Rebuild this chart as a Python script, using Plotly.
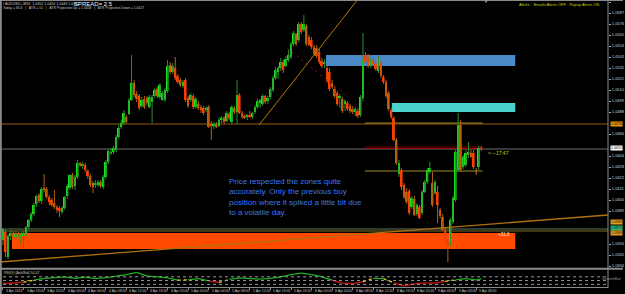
import plotly.graph_objects as go

# ---------------- data (AUDUSD M30) ----------------
opens = [1.0360,1.0368,1.0343,1.0364,1.0366,1.0363,1.0366,1.0362,1.0364,1.0367,
1.0373,1.0380,1.0386,1.0396,1.0405,1.0399,1.0412,1.0411,1.0403,1.0400,
1.0397,1.0393,1.0392,1.0388,1.0392,1.0404,1.0412,1.0425,1.0414,1.0423,
1.0437,1.0434,1.0435,1.0429,1.0424,1.0417,1.0415,1.0415,1.0418,1.0413,
1.0423,1.0438,1.0447,1.0448,1.0450,1.0463,1.0473,1.0477,1.0483,1.0486,
1.0500,1.0517,1.0506,1.0504,1.0494,1.0501,1.0502,1.0493,1.0498,1.0504,
1.0511,1.0503,1.0500,1.0500,1.0509,1.0535,1.0528,1.0532,1.0524,1.0520,
1.0514,1.0520,1.0502,1.0500,1.0504,1.0493,1.0496,1.0493,1.0492,1.0490,
1.0493,1.0476,1.0474,1.0476,1.0474,1.0480,1.0482,1.0479,1.0486,1.0478,
1.0492,1.0488,1.0505,1.0487,1.0484,1.0483,1.0485,1.0483,1.0488,1.0493,
1.0497,1.0496,1.0504,1.0499,1.0503,1.0510,1.0522,1.0528,1.0532,1.0538,
1.0534,1.0540,1.0543,1.0556,1.0566,1.0560,1.0576,1.0570,1.0574,1.0563,
1.0560,1.0553,1.0552,1.0548,1.0539,1.0536,1.0532,1.0528,1.0517,1.0511,
1.0507,1.0502,1.0501,1.0496,1.0497,1.0494,1.0491,1.0488,1.0489,1.0485,
1.0502,1.0545,1.0543,1.0535,1.0539,1.0536,1.0529,1.0537,1.0523,1.0518,
1.0507,1.0490,1.0482,1.0460,1.0426,1.0430,1.0415,1.0408,1.0409,1.0393,
1.0401,1.0386,1.0393,1.0387,1.0408,1.0418,1.0428,1.0417,1.0407,1.0408,
1.0390,1.0383,1.0370,1.0360,1.0357,1.0378,1.0400,1.0430,1.0475,1.0433,
1.0435,1.0445,1.0447,1.0447,1.0430,1.0433,1.0452]

highs = [1.0372,1.0370,1.0366,1.0370,1.0369,1.0369,1.0368,1.0368,1.0369,1.0374,
1.0381,1.0388,1.0397,1.0405,1.0407,1.0413,1.0426,1.0413,1.0405,1.0402,
1.0410,1.0395,1.0394,1.0394,1.0404,1.0416,1.0426,1.0427,1.0425,1.0440,
1.0438,1.0438,1.0437,1.0431,1.0426,1.0419,1.0420,1.0420,1.0420,1.0425,
1.0440,1.0451,1.0452,1.0454,1.0465,1.0475,1.0480,1.0490,1.0485,1.0502,
1.0545,1.0520,1.0509,1.0506,1.0503,1.0504,1.0504,1.0505,1.0505,1.0512,
1.0513,1.0517,1.0509,1.0512,1.0540,1.0538,1.0537,1.0543,1.0526,1.0522,
1.0520,1.0522,1.0504,1.0507,1.0506,1.0503,1.0499,1.0495,1.0494,1.0494,
1.0495,1.0479,1.0478,1.0478,1.0483,1.0484,1.0484,1.0489,1.0488,1.0495,
1.0494,1.0520,1.0507,1.0489,1.0486,1.0486,1.0489,1.0488,1.0495,1.0501,
1.0501,1.0506,1.0505,1.0504,1.0513,1.0524,1.0533,1.0534,1.0542,1.0540,
1.0544,1.0550,1.0558,1.0569,1.0567,1.0578,1.0578,1.0585,1.0576,1.0565,
1.0563,1.0555,1.0555,1.0551,1.0542,1.0541,1.0534,1.0532,1.0520,1.0513,
1.0509,1.0506,1.0503,1.0501,1.0499,1.0496,1.0494,1.0493,1.0492,1.0505,
1.0567,1.0548,1.0546,1.0542,1.0542,1.0540,1.0544,1.0540,1.0525,1.0520,
1.0509,1.0492,1.0484,1.0462,1.0440,1.0432,1.0417,1.0412,1.0411,1.0404,
1.0404,1.0397,1.0395,1.0410,1.0420,1.0432,1.0438,1.0428,1.0420,1.0414,
1.0392,1.0386,1.0372,1.0362,1.0382,1.0404,1.0450,1.0487,1.0480,1.0445,
1.0450,1.0458,1.0450,1.0450,1.0432,1.0454,1.0454]

lows = [1.0355,1.0343,1.0341,1.0360,1.0360,1.0361,1.0360,1.0355,1.0352,1.0364,
1.0371,1.0378,1.0384,1.0393,1.0397,1.0396,1.0408,1.0401,1.0395,1.0393,
1.0391,1.0387,1.0383,1.0386,1.0390,1.0401,1.0410,1.0411,1.0410,1.0421,
1.0433,1.0431,1.0428,1.0421,1.0413,1.0407,1.0412,1.0413,1.0412,1.0411,
1.0421,1.0436,1.0445,1.0446,1.0448,1.0461,1.0471,1.0475,1.0476,1.0485,
1.0499,1.0503,1.0498,1.0490,1.0492,1.0491,1.0495,1.0492,1.0477,1.0502,
1.0502,1.0501,1.0499,1.0498,1.0507,1.0526,1.0526,1.0520,1.0516,1.0513,
1.0512,1.0498,1.0492,1.0498,1.0491,1.0491,1.0490,1.0487,1.0485,1.0488,
1.0472,1.0460,1.0471,1.0472,1.0473,1.0477,1.0476,1.0478,1.0480,1.0476,
1.0486,1.0476,1.0486,1.0481,1.0481,1.0480,1.0482,1.0481,1.0486,1.0491,
1.0492,1.0494,1.0496,1.0496,1.0501,1.0508,1.0520,1.0521,1.0529,1.0527,
1.0533,1.0538,1.0541,1.0554,1.0554,1.0558,1.0566,1.0568,1.0554,1.0554,
1.0551,1.0544,1.0542,1.0536,1.0532,1.0532,1.0517,1.0509,1.0511,1.0502,
1.0494,1.0492,1.0487,1.0489,1.0489,1.0487,1.0486,1.0484,1.0482,1.0483,
1.0499,1.0536,1.0532,1.0532,1.0534,1.0529,1.0527,1.0522,1.0516,1.0502,
1.0489,1.0481,1.0459,1.0435,1.0423,1.0410,1.0401,1.0396,1.0385,1.0391,
1.0384,1.0384,1.0381,1.0385,1.0407,1.0416,1.0426,1.0393,1.0405,1.0377,
1.0382,1.0369,1.0353,1.0338,1.0354,1.0376,1.0398,1.0428,1.0428,1.0431,
1.0433,1.0442,1.0442,1.0431,1.0425,1.0430,1.0449]

closes = [1.0371,1.0348,1.0364,1.0367,1.0363,1.0366,1.0363,1.0365,1.0367,1.0373,
1.0380,1.0386,1.0395,1.0404,1.0399,1.0411,1.0410,1.0403,1.0398,1.0395,
1.0393,1.0390,1.0389,1.0392,1.0403,1.0414,1.0425,1.0413,1.0423,1.0437,
1.0435,1.0436,1.0430,1.0424,1.0415,1.0413,1.0417,1.0418,1.0414,1.0423,
1.0438,1.0449,1.0448,1.0452,1.0463,1.0472,1.0477,1.0487,1.0478,1.0500,
1.0517,1.0505,1.0501,1.0492,1.0500,1.0493,1.0497,1.0503,1.0503,1.0510,
1.0504,1.0515,1.0507,1.0510,1.0534,1.0528,1.0534,1.0522,1.0518,1.0515,
1.0518,1.0500,1.0494,1.0505,1.0493,1.0501,1.0492,1.0490,1.0487,1.0492,
1.0473,1.0474,1.0476,1.0473,1.0480,1.0482,1.0478,1.0487,1.0482,1.0493,
1.0488,1.0505,1.0487,1.0483,1.0482,1.0485,1.0483,1.0487,1.0493,1.0499,
1.0500,1.0504,1.0498,1.0502,1.0511,1.0522,1.0530,1.0532,1.0538,1.0530,
1.0541,1.0545,1.0556,1.0567,1.0556,1.0576,1.0568,1.0576,1.0556,1.0555,
1.0553,1.0546,1.0544,1.0538,1.0534,1.0538,1.0519,1.0511,1.0513,1.0504,
1.0496,1.0504,1.0489,1.0499,1.0491,1.0489,1.0488,1.0491,1.0484,1.0503,
1.0540,1.0538,1.0534,1.0539,1.0536,1.0531,1.0542,1.0524,1.0518,1.0504,
1.0491,1.0483,1.0460,1.0437,1.0437,1.0413,1.0403,1.0398,1.0387,1.0402,
1.0385,1.0395,1.0382,1.0408,1.0418,1.0430,1.0432,1.0395,1.0418,1.0395,
1.0384,1.0370,1.0360,1.0355,1.0380,1.0402,1.0448,1.0475,1.0430,1.0443,
1.0447,1.0448,1.0443,1.0433,1.0428,1.0452,1.0451]

# RSI(9) indicator, sampled every 4 bars
rsi_bars = [0,4,8,12,16,20,24,28,32,36,40,44,48,52,56,60,64,68,72,76,80,84,88,92,
            96,100,104,108,112,116,120,124,128,132,136,140,144,148,152,156,160,164,
            168,172,176,180,184,186]
rsi_values = [42.6,43.5,46,51,56,58,60,56,59,55,58,62,66,72,62,60,57,51,52,55,49,45,53,57,
              55,54,56,60,66,70,66,60,51,43,42,47,56,55,44,36,41,44,43,48,52,55,52,54.5]
rsi_levels = [60, 50, 40]

time_labels = ["3 Apr 2013", "3 Apr 16:00", "3 Apr 20:00", "4 Apr 00:00", "4 Apr 04:00",
               "4 Apr 08:00", "4 Apr 12:00", "4 Apr 16:00", "4 Apr 20:00", "5 Apr 00:00",
               "5 Apr 04:00", "5 Apr 08:00", "5 Apr 12:00", "5 Apr 16:00", "5 Apr 20:00",
               "8 Apr 00:00", "8 Apr 04:00", "8 Apr 08:00", "8 Apr 12:00", "8 Apr 16:00",
               "8 Apr 20:00", "9 Apr 00:00", "9 Apr 04:00", "9 Apr 08:00"]
bars_per_label = 8

price_ticks = [1.0598, 1.0587, 1.0576, 1.0565, 1.0554, 1.0543, 1.0532, 1.0521, 1.0510,
               1.0499, 1.0488, 1.0466, 1.0444, 1.0433, 1.0422, 1.0411, 1.0400, 1.0389,
               1.0356, 1.0345, 1.0334]

# levels and zones
resistance_line = 1.0476
bid_price = 1.0451
entry_lines = [1.0477, 1.0429]
stop_lines = [1.0453, 1.04515]
support_lines = [1.0371, 1.0369]
zone_blue = (1.0534, 1.0545)
zone_cyan = (1.0488, 1.0497)
zone_orange = (1.0351, 1.0367)

# ---------------- figure ----------------
N = len(opens)
idx = list(range(N))
BULL_BODY, BEAR_BODY = "#1FE01F", "#FF3C00"
BULL_WICK, BEAR_WICK = "#2A8F2A", "#B0640E"

fig = go.Figure()

# wicks
for bull, col in ((True, BULL_WICK), (False, BEAR_WICK)):
    xs, ys = [], []
    for i, o, h, l, c in zip(idx, opens, highs, lows, closes):
        if (c >= o) == bull:
            xs += [i, i, None]
            ys += [l, h, None]
    fig.add_trace(go.Scatter(x=xs, y=ys, mode="lines", line=dict(color=col, width=1),
                             hoverinfo="skip", xaxis="x", yaxis="y"))

# bodies
bases = [min(o, c) for o, c in zip(opens, closes)]
heights = [max(abs(c - o), 0.00006) for o, c in zip(opens, closes)]
colors = [BULL_BODY if c >= o else BEAR_BODY for o, c in zip(opens, closes)]
fig.add_trace(go.Bar(x=idx, y=heights, base=bases, width=0.75, marker_color=colors,
                     marker_line_width=0, xaxis="x", yaxis="y", hoverinfo="skip"))

# RSI with colored segments
segs = {"g": ([], []), "r": ([], []), "y": ([], [])}
for a, b, va, vb in zip(rsi_bars[:-1], rsi_bars[1:], rsi_values[:-1], rsi_values[1:]):
    m = (va + vb) / 2
    k = "g" if m >= 52 else ("r" if m <= 48 else "y")
    segs[k][0].extend([a, b, None])
    segs[k][1].extend([va, vb, None])
for k, col, dash in (("g", "#22B022", "solid"), ("r", "#C81414", "solid"), ("y", "#E0D800", "dot")):
    fig.add_trace(go.Scatter(x=segs[k][0], y=segs[k][1], mode="lines",
                             line=dict(color=col, width=1.3, dash=dash),
                             xaxis="x", yaxis="y2", hoverinfo="skip"))

W_PLOT, H_PLOT = 610, 287
def px(x):
    return x / W_PLOT
def py(y):
    return (H_PLOT - y) / H_PLOT

x_lo, x_hi = -1.163, 235.27
zone_x0_blue, zone_x0_cyan, zone_x0_orange, zone_x1 = 125.6, 151.2, 3.5, 199.2
last_x = N - 0.5

shapes = []
# zones
for (lo, hi), x0, col in ((zone_blue, zone_x0_blue, "#4A88C6"),
                          (zone_cyan, zone_x0_cyan, "#4AD2CE"),
                          (zone_orange, zone_x0_orange, "#FF4A00")):
    shapes.append(dict(type="rect", xref="x", yref="y", x0=x0, x1=zone_x1, y0=lo, y1=hi,
                       fillcolor=col, line=dict(width=0), layer="below"))
# full-width lines
shapes.append(dict(type="line", xref="x", yref="y", x0=x_lo, x1=x_hi, y0=resistance_line,
                   y1=resistance_line, line=dict(color="#9A5A0C", width=1), layer="below"))
shapes.append(dict(type="line", xref="x", yref="y", x0=x_lo, x1=x_hi, y0=bid_price,
                   y1=bid_price, line=dict(color="#6E6E6E", width=1), layer="below"))
for v, col in zip(support_lines, ("#5E785A", "#7C6A2A")):
    shapes.append(dict(type="line", xref="x", yref="y", x0=x_lo, x1=x_hi, y0=v, y1=v,
                       line=dict(color=col, width=1), layer="below"))
# trade lines
for v in entry_lines:
    shapes.append(dict(type="line", xref="x", yref="y", x0=140.7, x1=last_x, y0=v, y1=v,
                       line=dict(color="#9C8E1C", width=1.2), layer="below"))
for v, col in zip(stop_lines, ("#7A0000", "#950A0A")):
    shapes.append(dict(type="line", xref="x", yref="y", x0=140.7, x1=last_x, y0=v, y1=v,
                       line=dict(color=col, width=1), layer="below"))
# trend lines
shapes.append(dict(type="line", xref="x", yref="y", x0=x_lo, x1=x_hi, y0=1.0338, y1=1.0385,
                   line=dict(color="#B0700E", width=1.3)))
shapes.append(dict(type="line", xref="x", yref="y", x0=99.6, x1=137.8, y0=1.0475, y1=1.0600,
                   line=dict(color="#B8780E", width=1)))
shapes.append(dict(type="line", xref="x", yref="y", x0=110.5, x1=133.3, y0=1.0552, y1=1.0505,
                   line=dict(color="#7A1010", width=1, dash="dot")))
# RSI levels
for lv in rsi_levels:
    shapes.append(dict(type="line", xref="paper", yref="y2", x0=0.005, x1=1, y0=lv, y1=lv,
                       line=dict(color="#9A9A9A", width=1, dash="dot")))
# frame / separators
GRAY = "#8A8A8A"
shapes += [
    dict(type="line", xref="paper", yref="paper", x0=0, x1=625 / W_PLOT, y0=py(268.8), y1=py(268.8),
         line=dict(color=GRAY, width=2)),
    dict(type="line", xref="paper", yref="paper", x0=1, x1=1, y0=py(288), y1=py(0),
         line=dict(color=GRAY, width=1)),
    dict(type="line", xref="paper", yref="paper", x0=px(0.8), x1=px(0.8), y0=py(294), y1=py(0),
         line=dict(color=GRAY, width=2)),
    dict(type="line", xref="paper", yref="paper", x0=0, x1=625 / W_PLOT, y0=py(0.5), y1=py(0.5),
         line=dict(color=GRAY, width=1)),
    dict(type="line", xref="paper", yref="paper", x0=0, x1=1, y0=py(287.5), y1=py(287.5),
         line=dict(color=GRAY, width=1)),
]

FONT = "Liberation Sans, Arial, sans-serif"
anns = []
def txt(x, y, s, size, color, xanchor="left", yanchor="middle", **kw):
    anns.append(dict(xref="paper", yref="paper", x=px(x), y=py(y), text=s, showarrow=False,
                     xanchor=xanchor, yanchor=yanchor, font=dict(family=FONT, size=size, color=color),
                     borderpad=0, **kw))

txt(2, 3.5, "▪ AUDUSD+,M30  1.0452 1.0454 1.0449 1.0451", 3.6, "#C8C8C8")
txt(73, 4, "SPREAD= 2.5", 6, "#F0F0F0")
txt(2, 7.5, "Today = 63.4   |   ATR = 51   |   ATR Projection Up = 1.0458   |   ATR Projection Down = 1.0427",
    3.4, "#C8C8C8")
txt(520, 5, "Alerts:   Emails Alerts OFF - Popup Alerts ON", 4, "#CDCD10")
txt(488, 1.5, "▼", 4, "#B0B0B0", xanchor="center")
txt(489, 153, "<---17:47", 5, "#CDCD10")
txt(499, 235, "+31.8", 4.5, "#FFE2C8")
txt(229, 176, "Price respected the zones quite<br>accurately. Only the previous buy<br>"
              "position where it spiked a little bit due<br>to a volatile day.",
    8, "#3A78F2", yanchor="top", align="left")
txt(3, 272.5, "RSI(9) [Ask/Bid] 54.47", 3.6, "#C8C8C8")
txt(624, 279, "ScreenShot", 3.6, "#9A9A9A", xanchor="right")

# price-axis highlight boxes
for p, ypix, bg in ((1.0476, 124, "#E8980C"), (1.0452, 147.5, "#FFFFFF"),
                    (1.0383, 221.7, "#E8A020"), (1.0371, 228.3, "#28B878"),
                    (1.0368, 232.5, "#E8A020")):
    txt(612, ypix, f"{p:.4f}", 3.5, "#000000", bgcolor=bg)

# time labels
for k, lab in enumerate(time_labels):
    anns.append(dict(xref="x", yref="paper", x=k * bars_per_label, y=py(291.2), text=lab,
                     showarrow=False, xanchor="left", yanchor="middle", xshift=1,
                     font=dict(family=FONT, size=3.4, color="#C8C8C8")))

fig.update_layout(
    width=625, height=294,
    margin=dict(l=0, r=15, t=0, b=7),
    paper_bgcolor="#000000", plot_bgcolor="#000000",
    showlegend=False, barmode="overlay",
    xaxis=dict(range=[x_lo, x_hi], anchor="y2", showgrid=False, zeroline=False,
               showticklabels=False, ticks="outside", ticklen=2, tickcolor=GRAY,
               tickvals=[k * bars_per_label for k in range(len(time_labels))],
               showline=False, fixedrange=True),
    yaxis=dict(domain=[py(268), 1], range=[1.06 - 0.0268, 1.06], side="right", anchor="x",
               showgrid=False, zeroline=False, tickvals=price_ticks,
               ticktext=[f"{v:.4f}" for v in price_ticks],
               tickfont=dict(family=FONT, size=4, color="#D0D0D0"),
               ticks="outside", ticklen=2, tickcolor="#B0B0B0", showline=False),
    yaxis2=dict(domain=[0, py(270)], range=[33, 78], side="right", anchor="x",
                showgrid=False, zeroline=False, showticklabels=False, showline=False),
    shapes=shapes, annotations=anns,
)

fig.write_html("out.html")
